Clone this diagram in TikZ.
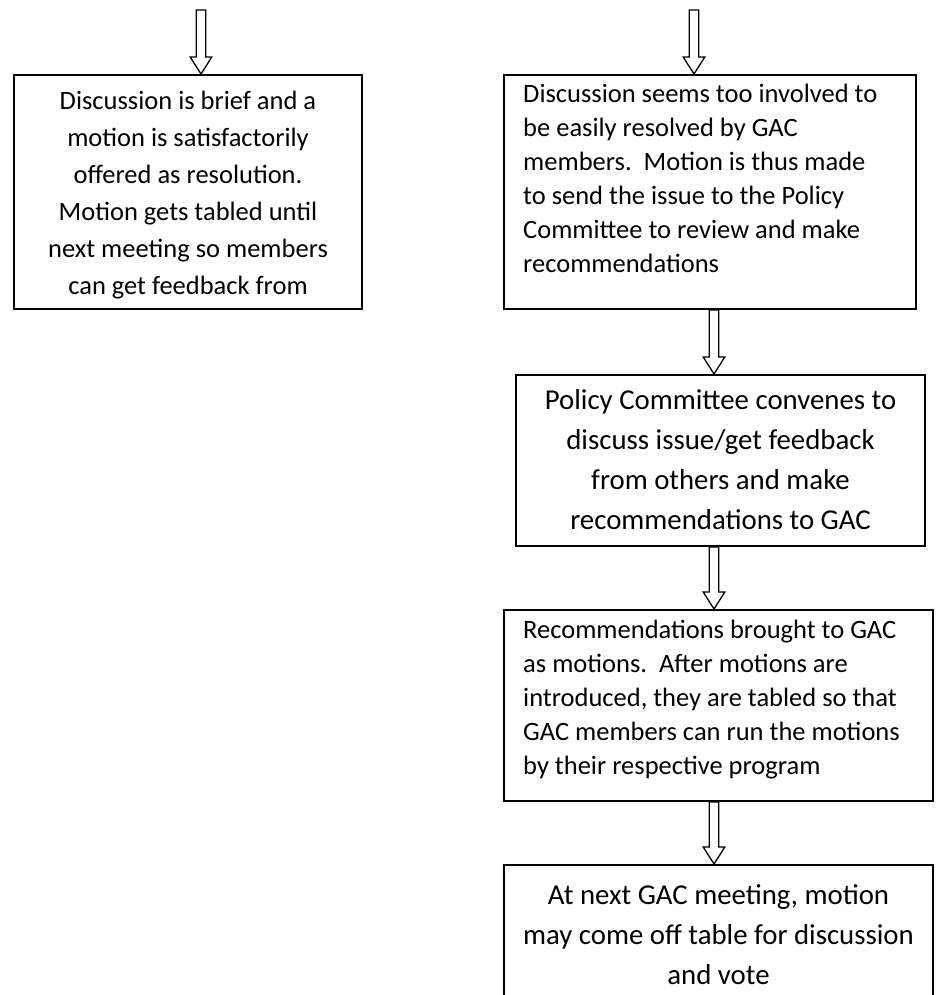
\documentclass[tikz,border=0pt]{standalone}
\usepackage{fontspec}
\setmainfont{Carlito}
\usetikzlibrary{positioning,calc}

\tikzset{
  box/.style={draw,line width=2pt,rectangle,inner sep=0pt,anchor=north west},
  smalltext/.style={font=\fontsize{26.5}{34}\selectfont,inner sep=0pt},
  bigtext/.style={font=\fontsize{28.8}{40}\selectfont,inner sep=0pt},
  hollow/.style={draw,line width=1.3pt,line join=miter}
}
% hollow block arrow, straight down from #1 to the height of #2
\newcommand{\hollowarrow}[2]{%
  \draw[hollow] let \p1=(#1), \p2=(#2) in
    (\x1-4.7pt,\y1) -- (\x1-4.7pt,\y2+17pt) -- (\x1-10.8pt,\y2+17pt) -- (\x1,\y2)
    -- (\x1+10.8pt,\y2+17pt) -- (\x1+4.7pt,\y2+17pt) -- (\x1+4.7pt,\y1) -- cycle;}

\begin{document}
\begin{tikzpicture}[x=1pt,y=-1pt]
    \useasboundingbox (0,0) rectangle (948,995);
    \clip (0,0) rectangle (948,995);
    % Left branch
    \node[box,minimum width=348pt,minimum height=234pt] (b1) at (13,74) {};
    \node[smalltext,font=\fontsize{26.5}{37}\selectfont,align=center,
          below=17pt of b1.north] (t1)
      {Discussion is brief and a\\ motion is satisfactorily\\ offered as resolution.\\
       Motion gets tabled until\\ next meeting so members\\ can get feedback from};
    % Right branch
    \node[box,minimum width=412pt,minimum height=234pt] (b2) at (503,74) {};
    \node[smalltext,align=left,below right=9.7pt and 20pt of b2.north west] (t2)
      {Discussion seems too involved to\\ be easily resolved by GAC\\
       members.\ \ Motion is thus made\\ to send the issue to the Policy\\
       Committee to review and make\\ recommendations};
    % Policy Committee
    \node[box,minimum width=409pt,minimum height=171pt] (b3) at (515,374) {};
    \node[bigtext,align=center,below=15pt of b3.north] (t3)
      {Policy Committee convenes to\\ discuss issue/get feedback\\
       from others and make\\ recommendations to GAC};
    % Back to GAC
    \node[box,minimum width=429pt,minimum height=191pt] (b4) at (503,609) {};
    \node[smalltext,align=left,below right=11pt and 20pt of b4.north west] (t4)
      {Recommendations brought to GAC\\ as motions.\ \ After motions are\\
       introduced, they are tabled so that\\ GAC members can run the motions\\
       by their respective program};
    % Vote
    \node[box,minimum width=429pt,minimum height=200pt] (b5) at (503,864) {};
    \node[bigtext,align=center,below=20pt of b5.north] (t5)
      {At next GAC meeting, motion\\ may come off table for discussion\\ and vote};
    % Arrows
    \coordinate (s1) at (201,10);
    \coordinate (s2) at (694,10);
    \hollowarrow{s1}{b1.north}
    \hollowarrow{s2}{b2.north}
    \hollowarrow{$(b2.south)+(4,0)$}{b3.north}
    \hollowarrow{$(b3.south)+(-6.5,0)$}{b4.north}
    \hollowarrow{$(b4.south)+(-4.5,0)$}{b5.north}
\end{tikzpicture}
\end{document}
